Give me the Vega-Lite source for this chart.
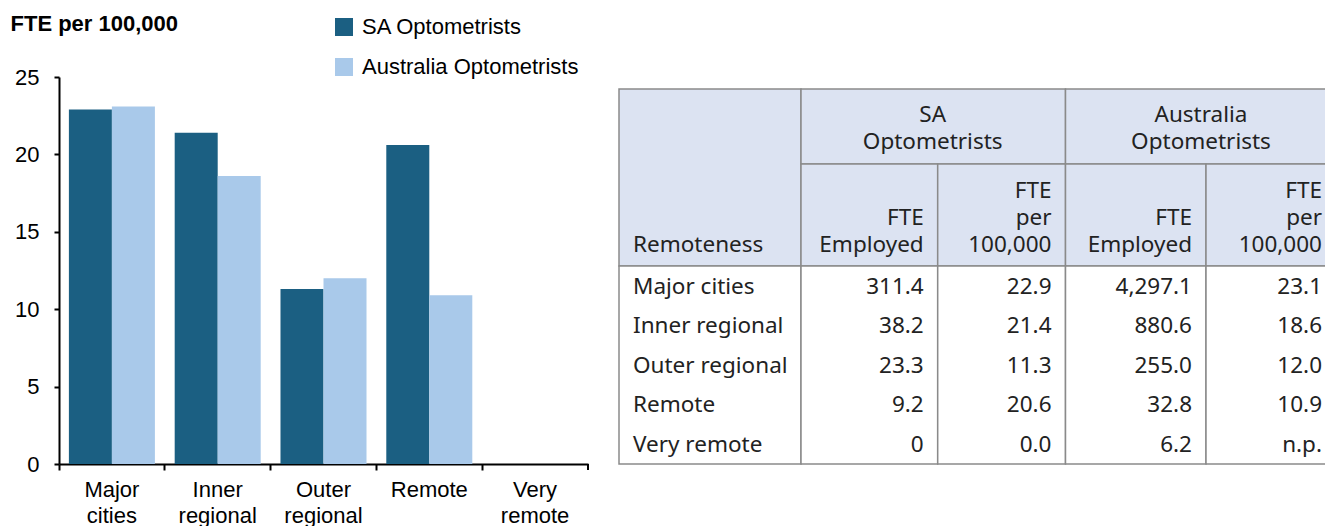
{
  "$schema": "https://vega.github.io/schema/vega-lite/v6.json",
  "padding": {"left": 10, "top": 12, "right": 0, "bottom": 0},
  "background": "white",
  "bounds": "flush",
  "spacing": 31,
  "config": {"view": {"stroke": null}, "font": "Liberation Sans"},
  "hconcat": [
    {
      "width": 529,
      "height": 387,
      "layer": [
        {
          "data": {"values": [
            {"Remoteness": "Major cities", "Group": "SA Optometrists", "FTE per 100,000": 22.9},
            {"Remoteness": "Major cities", "Group": "Australia Optometrists", "FTE per 100,000": 23.1},
            {"Remoteness": "Inner regional", "Group": "SA Optometrists", "FTE per 100,000": 21.4},
            {"Remoteness": "Inner regional", "Group": "Australia Optometrists", "FTE per 100,000": 18.6},
            {"Remoteness": "Outer regional", "Group": "SA Optometrists", "FTE per 100,000": 11.3},
            {"Remoteness": "Outer regional", "Group": "Australia Optometrists", "FTE per 100,000": 12.0},
            {"Remoteness": "Remote", "Group": "SA Optometrists", "FTE per 100,000": 20.6},
            {"Remoteness": "Remote", "Group": "Australia Optometrists", "FTE per 100,000": 10.9},
            {"Remoteness": "Very remote", "Group": "SA Optometrists", "FTE per 100,000": 0}
          ]},
          "mark": {"type": "bar"},
          "encoding": {
            "x": {
              "field": "Remoteness", "type": "nominal",
              "sort": ["Major cities", "Inner regional", "Outer regional", "Remote", "Very remote"],
              "scale": {"paddingInner": 0, "paddingOuter": 0},
              "axis": {
                "title": null, "labelAngle": 0, "labelExpr": "split(datum.label, ' ')",
                "labelFontSize": 22, "labelLineHeight": 26, "labelBaseline": "top", "labelPadding": 9,
                "labelColor": "black", "labelFont": "Liberation Sans",
                "tickSize": 6, "tickWidth": 2, "tickColor": "black", "bandPosition": 0,
                "domainColor": "black", "domainWidth": 2, "grid": false
              }
            },
            "xOffset": {
              "field": "Group", "type": "nominal",
              "sort": ["SA Optometrists", "Australia Optometrists"],
              "scale": {"paddingInner": 0, "paddingOuter": 0.23}
            },
            "y": {
              "field": "FTE per 100,000", "type": "quantitative",
              "scale": {"domain": [0, 25], "nice": false},
              "axis": {
                "values": [0, 5, 10, 15, 20, 25], "grid": false,
                "labelFontSize": 22, "labelPadding": 15, "labelColor": "black", "labelFont": "Liberation Sans",
                "tickSize": 5, "tickWidth": 2, "tickColor": "black",
                "domainColor": "black", "domainWidth": 2,
                "title": "FTE per 100,000", "titleAngle": 0, "titleAlign": "left", "titleBaseline": "alphabetic",
                "titleX": -49, "titleY": -47, "titleFontSize": 22, "titleFontWeight": "bold",
                "titleColor": "black", "titleFont": "Liberation Sans"
              }
            },
            "color": {
              "field": "Group", "type": "nominal",
              "scale": {"domain": ["SA Optometrists", "Australia Optometrists"], "range": ["#1b5f82", "#a9c9ea"]},
              "legend": {
                "orient": "none", "legendX": 274, "legendY": -61, "title": null,
                "symbolType": "square", "symbolSize": 324, "symbolStrokeWidth": 0,
                "labelFontSize": 22, "labelColor": "black", "labelFont": "Liberation Sans", "labelLimit": 0,
                "rowPadding": 18, "labelOffset": 7
              }
            }
          }
        },
        {
          "data": {"values": [{"Remoteness": "Very remote"}]},
          "mark": {"type": "rule", "color": "black", "strokeWidth": 2, "y2Offset": 6},
          "encoding": {
            "x": {"field": "Remoteness", "type": "nominal", "bandPosition": 1,
                  "sort": ["Major cities", "Inner regional", "Outer regional", "Remote", "Very remote"]},
            "y": {"datum": 0},
            "y2": {"datum": 0}
          }
        }
      ]
    },
    {
      "width": 717,
      "height": 387,
      "layer": [
        {
          "data": {"values": [
            {"c0": 0, "c1": 1, "r0": 0, "r1": 2, "part": "header"},
            {"c0": 1, "c1": 3, "r0": 0, "r1": 1, "part": "header"},
            {"c0": 3, "c1": 5, "r0": 0, "r1": 1, "part": "header"},
            {"c0": 1, "c1": 2, "r0": 1, "r1": 2, "part": "header"},
            {"c0": 2, "c1": 3, "r0": 1, "r1": 2, "part": "header"},
            {"c0": 3, "c1": 4, "r0": 1, "r1": 2, "part": "header"},
            {"c0": 4, "c1": 5, "r0": 1, "r1": 2, "part": "header"},
            {"c0": 0, "c1": 1, "r0": 2, "r1": 7, "part": "body"},
            {"c0": 1, "c1": 2, "r0": 2, "r1": 7, "part": "body"},
            {"c0": 2, "c1": 3, "r0": 2, "r1": 7, "part": "body"},
            {"c0": 3, "c1": 4, "r0": 2, "r1": 7, "part": "body"},
            {"c0": 4, "c1": 5, "r0": 2, "r1": 7, "part": "body"}
          ]},
          "mark": {"type": "rect", "stroke": "#8a8a8a", "strokeWidth": 1.5},
          "encoding": {
            "x": {"field": "c0", "type": "quantitative", "axis": null,
                  "scale": {"domain": [0, 1, 2, 3, 4, 5], "range": [0, 182, 318.7, 446.5, 587, 717], "zero": false, "nice": false}},
            "x2": {"field": "c1"},
            "y": {"field": "r0", "type": "quantitative", "axis": null,
                  "scale": {"domain": [0, 1, 2, 3, 4, 5, 6, 7], "range": [12, 87, 189, 228.6, 268.2, 307.8, 347.4, 387], "zero": false, "nice": false}},
            "y2": {"field": "r1"},
            "fill": {"field": "part", "type": "nominal", "legend": null,
                     "scale": {"domain": ["header", "body"], "range": ["#dce3f2", "#ffffff"]}}
          }
        },
        {
          "data": {"values": [
            {"text": "SA\nOptometrists", "c": 2, "r": 1},
            {"text": "Australia\nOptometrists", "c": 4, "r": 1}
          ]},
          "mark": {"type": "text", "font": "Noto Sans", "fontSize": 22.5, "color": "#222222", "align": "center", "baseline": "alphabetic", "lineBreak": "\n", "lineHeight": 27, "dx": -5, "dy": -42},
          "encoding": {
            "x": {"field": "c", "type": "quantitative"},
            "y": {"field": "r", "type": "quantitative"},
            "text": {"field": "text"}
          }
        },
        {
          "data": {"values": [
            {"text": "FTE\nEmployed", "c": 2, "r": 2},
            {"text": "FTE\nEmployed", "c": 4, "r": 2}
          ]},
          "mark": {"type": "text", "font": "Noto Sans", "fontSize": 22.5, "color": "#222222", "align": "right", "baseline": "alphabetic", "lineBreak": "\n", "lineHeight": 27, "dx": -14, "dy": -41},
          "encoding": {
            "x": {"field": "c", "type": "quantitative"},
            "y": {"field": "r", "type": "quantitative"},
            "text": {"field": "text"}
          }
        },
        {
          "data": {"values": [
            {"text": "FTE\nper\n100,000", "c": 3, "r": 2},
            {"text": "FTE\nper\n100,000", "c": 5, "r": 2}
          ]},
          "mark": {"type": "text", "font": "Noto Sans", "fontSize": 22.5, "color": "#222222", "align": "right", "baseline": "alphabetic", "lineBreak": "\n", "lineHeight": 27, "dx": -14, "dy": -68},
          "encoding": {
            "x": {"field": "c", "type": "quantitative"},
            "y": {"field": "r", "type": "quantitative"},
            "text": {"field": "text"}
          }
        },
        {
          "data": {"values": [
            {"text": "Remoteness", "c": 0, "r": 2}
          ]},
          "mark": {"type": "text", "font": "Noto Sans", "fontSize": 22.5, "color": "#222222", "align": "left", "baseline": "alphabetic", "dx": 14, "dy": -14},
          "encoding": {
            "x": {"field": "c", "type": "quantitative"},
            "y": {"field": "r", "type": "quantitative"},
            "text": {"field": "text"}
          }
        },
        {
          "data": {"values": [
            {"text": "Major cities", "c": 0, "r": 3},
            {"text": "Inner regional", "c": 0, "r": 4},
            {"text": "Outer regional", "c": 0, "r": 5},
            {"text": "Remote", "c": 0, "r": 6},
            {"text": "Very remote", "c": 0, "r": 7}
          ]},
          "mark": {"type": "text", "font": "Noto Sans", "fontSize": 22.5, "color": "#222222", "align": "left", "baseline": "alphabetic", "dx": 14, "dy": -12},
          "encoding": {
            "x": {"field": "c", "type": "quantitative"},
            "y": {"field": "r", "type": "quantitative"},
            "text": {"field": "text"}
          }
        },
        {
          "data": {"values": [
            {"text": "311.4", "c": 2, "r": 3}, {"text": "22.9", "c": 3, "r": 3}, {"text": "4,297.1", "c": 4, "r": 3}, {"text": "23.1", "c": 5, "r": 3},
            {"text": "38.2", "c": 2, "r": 4}, {"text": "21.4", "c": 3, "r": 4}, {"text": "880.6", "c": 4, "r": 4}, {"text": "18.6", "c": 5, "r": 4},
            {"text": "23.3", "c": 2, "r": 5}, {"text": "11.3", "c": 3, "r": 5}, {"text": "255.0", "c": 4, "r": 5}, {"text": "12.0", "c": 5, "r": 5},
            {"text": "9.2", "c": 2, "r": 6}, {"text": "20.6", "c": 3, "r": 6}, {"text": "32.8", "c": 4, "r": 6}, {"text": "10.9", "c": 5, "r": 6},
            {"text": "0", "c": 2, "r": 7}, {"text": "0.0", "c": 3, "r": 7}, {"text": "6.2", "c": 4, "r": 7}, {"text": "n.p.", "c": 5, "r": 7}
          ]},
          "mark": {"type": "text", "font": "Noto Sans", "fontSize": 22.5, "color": "#222222", "align": "right", "baseline": "alphabetic", "dx": -14, "dy": -12},
          "encoding": {
            "x": {"field": "c", "type": "quantitative"},
            "y": {"field": "r", "type": "quantitative"},
            "text": {"field": "text"}
          }
        }
      ]
    }
  ]
}
